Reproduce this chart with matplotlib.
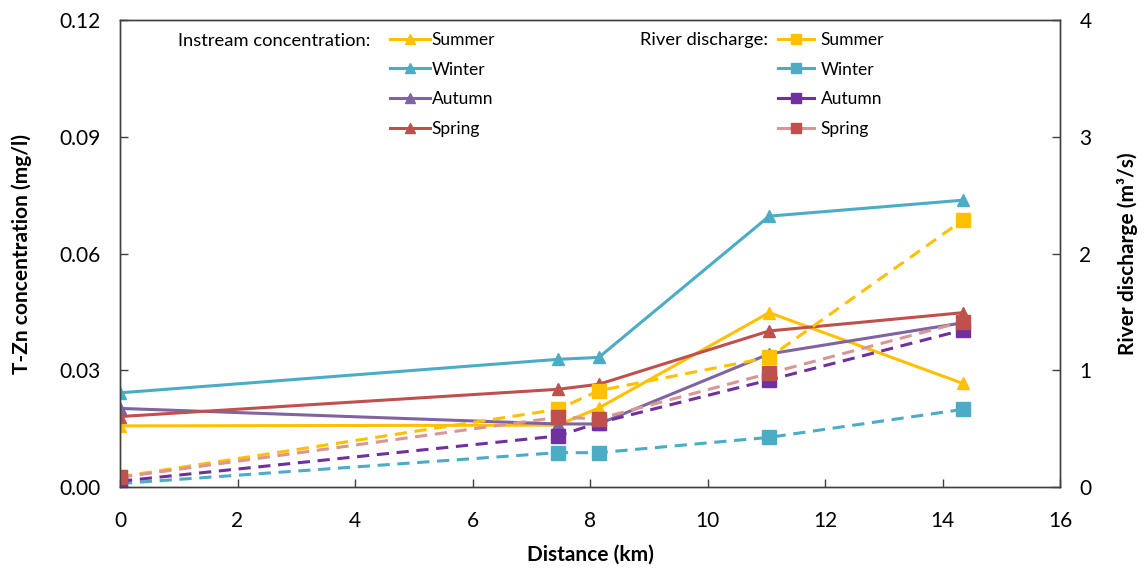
import matplotlib
matplotlib.use("Agg")
import matplotlib.pyplot as plt
from matplotlib.lines import Line2D

plt.rcParams['font.family'] = ['Lato', 'DejaVu Sans']

distance = [0, 7.45, 8.15, 11.05, 14.35]
seasons = ["Summer", "Winter", "Autumn", "Spring"]

conc_summer = [0.0157, 0.0159, 0.0203, 0.0448, 0.0266]
conc_winter = [0.0242, 0.0328, 0.0333, 0.0696, 0.0737]
conc_autumn = [0.0202, 0.0162, 0.0162, 0.0342, 0.0422]
conc_spring = [0.0181, 0.0251, 0.0264, 0.0401, 0.0448]

q_summer = [0.088, 0.665, 0.825, 1.11, 2.287]
q_winter = [0.03, 0.294, 0.294, 0.425, 0.665]
q_autumn = [0.05, 0.437, 0.55, 0.917, 1.345]
q_spring = [0.083, 0.597, 0.585, 0.974, 1.416]

conc_colors = {"Summer": "#FFC000", "Winter": "#4BACC6", "Autumn": "#8064A2", "Spring": "#C0504D"}
q_line_colors = {"Summer": "#FFC000", "Winter": "#4BACC6", "Autumn": "#7030A0", "Spring": "#D99694"}
q_marker_colors = {"Summer": "#FFC000", "Winter": "#4BACC6", "Autumn": "#7030A0", "Spring": "#C0504D"}

conc = {"Summer": conc_summer, "Winter": conc_winter, "Autumn": conc_autumn, "Spring": conc_spring}
q = {"Summer": q_summer, "Winter": q_winter, "Autumn": q_autumn, "Spring": q_spring}

W, H = 1147, 572
fig = plt.figure(figsize=(W / 100, H / 100), dpi=100)
ax = fig.add_axes([120 / W, 1 - 487 / H, (1060 - 120) / W, (487 - 20) / H])
ax2 = ax.twinx()

spine_c = "#404040"
for a in (ax, ax2):
    for s in a.spines.values():
        s.set_color(spine_c)
        s.set_linewidth(1.0)

for s in seasons:
    ax.plot(distance, conc[s], color=conc_colors[s], lw=2.2, marker='^', ms=9,
            markerfacecolor=conc_colors[s], markeredgecolor=conc_colors[s])
for s in seasons:
    ax2.plot(distance, q[s], color=q_line_colors[s], lw=2.2, ls=(0, (4, 2.5)), marker='s', ms=10,
             markerfacecolor=q_marker_colors[s], markeredgecolor=q_marker_colors[s])

ax.set_xlim(0, 16)
ax.set_ylim(0, 0.12)
ax2.set_ylim(0, 4)
ax.set_xticks(range(0, 17, 2))
ax.set_yticks([0, 0.03, 0.06, 0.09, 0.12])
ax.set_yticklabels(["0.00", "0.03", "0.06", "0.09", "0.12"])
ax2.set_yticks([0, 1, 2, 3, 4])

for a in (ax, ax2):
    a.tick_params(direction='in', length=6, width=1, color=spine_c, labelsize=15, labelcolor='black')
ax.tick_params(axis='x', pad=17)
ax.tick_params(axis='y', pad=14)
ax2.tick_params(axis='y', pad=14)

ax.set_xlabel("Distance (km)", fontsize=15, fontweight='bold', labelpad=10)
ax.set_ylabel("T-Zn concentration (mg/l)", fontsize=15, fontweight='bold', labelpad=20)
ax2.set_ylabel("River discharge (m³/s)", fontsize=15, fontweight='bold', labelpad=18)

fs = 12.5
fig.text(178 / W, 1 - 41 / H, "Instream concentration:", fontsize=13.2, va='center', ha='left')
fig.text(640 / W, 1 - 40 / H, "River discharge:", fontsize=13.2, va='center', ha='left')

h1 = [Line2D([], [], color=conc_colors[s], lw=2.2, marker='^', ms=7) for s in seasons]
h2 = [Line2D([], [], color=q_line_colors[s], lw=2.2, marker='s', ms=7,
             markerfacecolor=q_marker_colors[s], markeredgecolor=q_marker_colors[s]) for s in seasons]

leg1 = fig.legend(h1, seasons, loc='upper left', bbox_to_anchor=(390 / W, 1 - 32 / H), frameon=False,
                  fontsize=fs, handlelength=2.3, handletextpad=0.1, labelspacing=0.78, borderpad=0,
                  borderaxespad=0)
leg2 = fig.legend(h2, seasons, loc='upper left', bbox_to_anchor=(778 / W, 1 - 32 / H), frameon=False,
                  fontsize=fs, handlelength=2.1, handletextpad=0.35, labelspacing=0.78, borderpad=0,
                  borderaxespad=0)

fig.savefig("out.png", dpi=100)
